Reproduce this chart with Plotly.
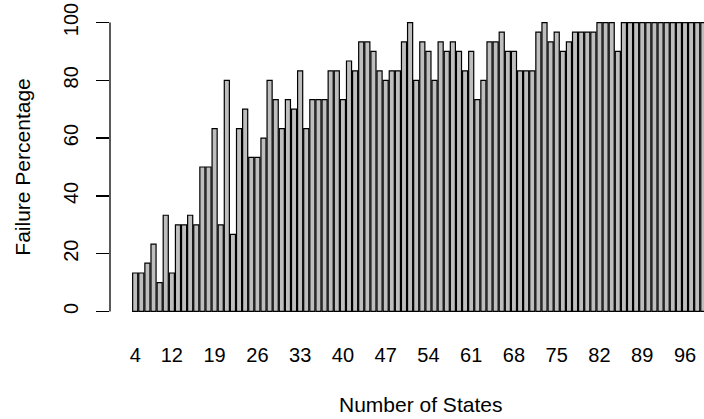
import plotly.graph_objects as go

# Number of states (bar categories) and failure percentages
states = [4, 7, 8, 9, 10, 11] + list(range(12, 100))
failure_pct = [
    13.3, 13.3, 16.7, 23.3, 10.0, 33.3, 13.3, 30.0, 30.0, 33.3,
    30.0, 50.0, 50.0, 63.3, 30.0, 80.0, 26.7, 63.3, 70.0, 53.3,
    53.3, 60.0, 80.0, 73.3, 63.3, 73.3, 70.0, 83.3, 63.3, 73.3,
    73.3, 73.3, 83.3, 83.3, 73.3, 86.7, 83.3, 93.3, 93.3, 90.0,
    83.3, 80.0, 83.3, 83.3, 93.3, 100.0, 80.0, 93.3, 90.0, 80.0,
    93.3, 90.0, 93.3, 90.0, 83.3, 90.0, 73.3, 80.0, 93.3, 93.3,
    96.7, 90.0, 90.0, 83.3, 83.3, 83.3, 96.7, 100.0, 93.3, 96.7,
    90.0, 93.3, 96.7, 96.7, 96.7, 96.7, 100.0, 100.0, 100.0, 90.0,
    100.0, 100.0, 100.0, 100.0, 100.0, 100.0, 100.0, 100.0, 100.0, 100.0,
    100.0, 100.0, 100.0, 100.0,
]
x_tick_labels = ["4", "12", "19", "26", "33", "40", "47", "54", "61", "68", "75", "82", "89", "96"]
y_ticks = [0, 20, 40, 60, 80, 100]

cats = [str(s) for s in states]
FONT = "Liberation Sans, Arial, Helvetica, sans-serif"

fig = go.Figure(
    go.Bar(
        x=cats,
        y=failure_pct,
        marker=dict(color="#BEBEBE", line=dict(color="black", width=1.2)),
        hoverinfo="skip",
    )
)

fig.update_layout(
    width=704,
    height=419,
    margin=dict(l=110, r=0, t=11, b=96, autoexpand=False),
    plot_bgcolor="white",
    paper_bgcolor="white",
    bargap=1 / 6,
    showlegend=False,
    font=dict(family=FONT, size=20, color="black"),
    xaxis=dict(
        type="category",
        range=[-4.125, 93.11],
        tickmode="array",
        tickvals=x_tick_labels,
        ticktext=x_tick_labels,
        ticks="",
        showline=False,
        showgrid=False,
        zeroline=False,
        automargin=False,
        ticklabelstandoff=18,
        tickfont=dict(family=FONT, size=20, color="black"),
    ),
    yaxis=dict(
        range=[-4, 104],
        tickmode="array",
        tickvals=y_ticks,
        ticktext=[str(v) for v in y_ticks],
        ticks="outside",
        ticklen=13,
        tickwidth=1.3,
        tickcolor="black",
        tickangle=-90,
        showline=False,
        showgrid=False,
        zeroline=False,
        automargin=False,
        ticklabelstandoff=10,
        tickfont=dict(family=FONT, size=20, color="black"),
    ),
    shapes=[
        dict(
            type="line", xref="paper", yref="y",
            x0=0, x1=0, y0=y_ticks[0], y1=y_ticks[-1],
            line=dict(color="black", width=1.3),
        )
    ],
    annotations=[
        dict(
            text="Number of States", xref="paper", yref="paper",
            x=0.522, y=-0.262, xanchor="center", yanchor="middle",
            showarrow=False, font=dict(family=FONT, size=21, color="black"),
        ),
        dict(
            text="Failure Percentage", xref="paper", yref="paper",
            x=-0.1487, y=0.5, xanchor="center", yanchor="middle",
            textangle=-90, showarrow=False,
            font=dict(family=FONT, size=21, color="black"),
        ),
    ],
)

fig.write_html(
    "out.html",
    config={"displayModeBar": False, "staticPlot": True},
    post_script="document.body.style.margin='0';document.body.style.padding='0';",
)
